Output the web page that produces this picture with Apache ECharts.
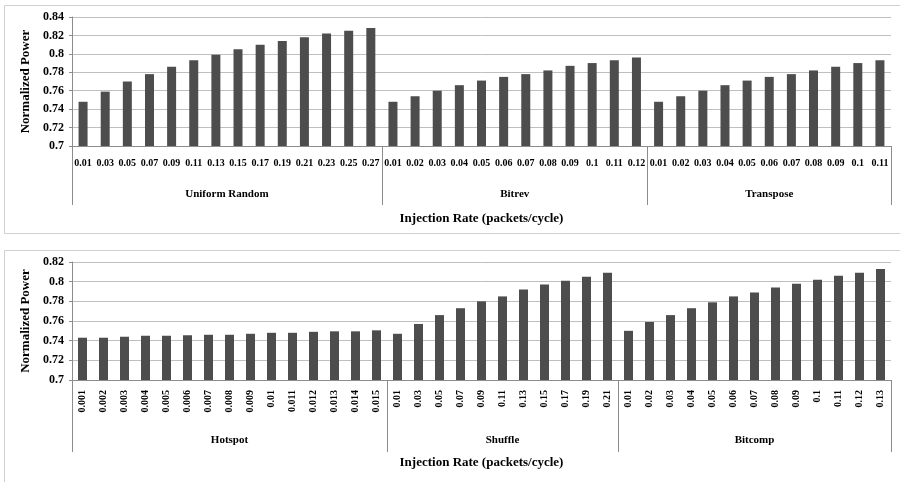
<!DOCTYPE html>
<html><head><meta charset="utf-8">
<script src="https://cdn.jsdelivr.net/npm/echarts@6/dist/echarts.min.js"></script>
<style>html,body{margin:0;padding:0;background:#fff}#c{width:900px;height:482px}</style>
</head><body><div id="c"></div><script>
// ---- data ----
const topGroups = ['Uniform Random', 'Bitrev', 'Transpose'];
const uniformRandomRates = ['0.01','0.03','0.05','0.07','0.09','0.11','0.13','0.15','0.17','0.19','0.21','0.23','0.25','0.27'];
const uniformRandomPower = [0.748,0.759,0.770,0.778,0.786,0.793,0.799,0.805,0.810,0.814,0.818,0.822,0.825,0.828];
const bitrevRates = ['0.01','0.02','0.03','0.04','0.05','0.06','0.07','0.08','0.09','0.1','0.11','0.12'];
const bitrevPower = [0.748,0.754,0.760,0.766,0.771,0.775,0.778,0.782,0.787,0.790,0.793,0.796];
const transposeRates = ['0.01','0.02','0.03','0.04','0.05','0.06','0.07','0.08','0.09','0.1','0.11'];
const transposePower = [0.748,0.754,0.760,0.766,0.771,0.775,0.778,0.782,0.786,0.790,0.793];

const bottomGroups = ['Hotspot', 'Shuffle', 'Bitcomp'];
const hotspotRates = ['0.001','0.002','0.003','0.004','0.005','0.006','0.007','0.008','0.009','0.01','0.011','0.012','0.013','0.014','0.015'];
const hotspotPower = [0.743,0.743,0.744,0.745,0.745,0.7455,0.746,0.746,0.747,0.748,0.748,0.749,0.7495,0.7495,0.7505];
const shuffleRates = ['0.01','0.03','0.05','0.07','0.09','0.11','0.13','0.15','0.17','0.19','0.21'];
const shufflePower = [0.747,0.757,0.766,0.773,0.780,0.785,0.792,0.797,0.801,0.805,0.809];
const bitcompRates = ['0.01','0.02','0.03','0.04','0.05','0.06','0.07','0.08','0.09','0.1','0.11','0.12','0.13'];
const bitcompPower = [0.750,0.759,0.766,0.773,0.779,0.785,0.789,0.794,0.798,0.802,0.806,0.809,0.813];

const yTitle = 'Normalized Power';
const xTitle = 'Injection Rate (packets/cycle)';

// ---- build ----
function build(groups, rateLists, powerLists) {
  const cats = [], vals = [], bounds = [0], centers = [];
  let n = 0;
  rateLists.forEach((r, i) => {
    r.forEach((c, j) => { cats.push(c); vals.push(powerLists[i][j]); });
    centers.push(n + r.length / 2);
    n += r.length;
    bounds.push(n);
  });
  return { cats, vals, bounds, centers, n, groups };
}
const T = build(topGroups, [uniformRandomRates, bitrevRates, transposeRates], [uniformRandomPower, bitrevPower, transposePower]);
const B = build(bottomGroups, [hotspotRates, shuffleRates, bitcompRates], [hotspotPower, shufflePower, bitcompPower]);

const FONT = "'Liberation Serif','Times New Roman',serif";
const AXIS_GRAY = '#8c8c8c';
const GRID_GRAY = '#bfbfbf';
const BAR = '#4d4d4d';

function catAxis(gi, d, rotate, margin) {
  return {
    type: 'category', gridIndex: gi, data: d.cats, position: 'bottom',
    axisLine: { show: true, lineStyle: { color: AXIS_GRAY, width: 1 } },
    axisTick: { show: false },
    axisLabel: { interval: 0, rotate: rotate, margin: margin, color: '#000',
      fontFamily: FONT, fontWeight: 'bold', fontSize: 10 },
    splitLine: { show: false }
  };
}
function groupAxis(gi, d, tickLen, labelMargin, nameGap) {
  return {
    type: 'value', gridIndex: gi, min: 0, max: d.n, position: 'bottom',
    axisLine: { show: false },
    axisTick: { show: true, customValues: d.bounds, length: tickLen, inside: false,
      lineStyle: { color: AXIS_GRAY, width: 1 } },
    axisLabel: { show: true, customValues: d.centers, margin: labelMargin, color: '#000',
      fontFamily: FONT, fontWeight: 'bold', fontSize: 11,
      formatter: function (v) {
        let best = 0, bd = Infinity;
        d.centers.forEach((c, i) => { const dd = Math.abs(c - v); if (dd < bd) { bd = dd; best = i; } });
        return d.groups[best];
      } },
    splitLine: { show: false },
    name: xTitle, nameLocation: 'middle', nameGap: nameGap,
    nameTextStyle: { fontFamily: FONT, fontWeight: 'bold', fontSize: 13, color: '#000' }
  };
}
function valAxis(gi, max) {
  return {
    type: 'value', gridIndex: gi, min: 0.7, max: max, interval: 0.02,
    axisLine: { show: true, lineStyle: { color: AXIS_GRAY, width: 1 } },
    axisTick: { show: true, length: 3, lineStyle: { color: AXIS_GRAY } },
    axisLabel: { margin: 8, color: '#000', fontFamily: FONT, fontWeight: 'bold', fontSize: 12,
      formatter: v => String(parseFloat(v.toFixed(2))) },
    splitLine: { show: true, lineStyle: { color: GRID_GRAY, width: 1 } },
    name: yTitle, nameLocation: 'middle', nameGap: 38,
    nameTextStyle: { fontFamily: FONT, fontWeight: 'bold', fontSize: 13, color: '#000' }
  };
}

const chart = echarts.init(document.getElementById('c'), null, { renderer: 'canvas' });
chart.setOption({
  animation: false,
  backgroundColor: '#fff',
  graphic: [
    { type: 'rect', shape: { x: 4.5, y: 5.5, width: 910, height: 228 }, style: { fill: 'none', stroke: '#d0d0d0', lineWidth: 1 }, silent: true },
    { type: 'rect', shape: { x: 4.5, y: 250.5, width: 910, height: 250 }, style: { fill: 'none', stroke: '#d0d0d0', lineWidth: 1 }, silent: true }
  ],
  grid: [
    { left: 72, right: 9, top: 17, height: 129, containLabel: false },
    { left: 72, right: 9, top: 262, height: 118, containLabel: false }
  ],
  xAxis: [
    catAxis(0, T, 0, 12),
    groupAxis(0, T, 59, 43, 66),
    catAxis(1, B, 90, 10),
    groupAxis(1, B, 72, 55, 76)
  ],
  yAxis: [ valAxis(0, 0.84), valAxis(1, 0.82) ],
  series: [
    { type: 'bar', xAxisIndex: 0, yAxisIndex: 0, data: T.vals, barWidth: 9, itemStyle: { color: BAR } },
    { type: 'bar', xAxisIndex: 2, yAxisIndex: 1, data: B.vals, barWidth: 9, itemStyle: { color: BAR } }
  ]
});
</script></body></html>
